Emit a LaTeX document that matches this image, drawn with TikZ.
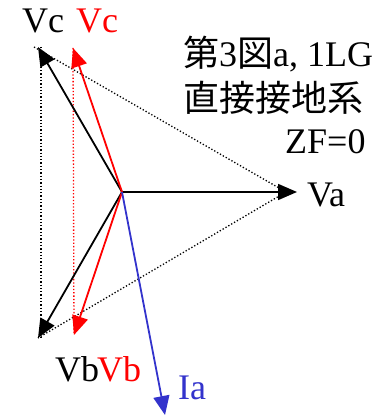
\documentclass[tikz,border=0pt]{standalone}
\usepackage{fontspec}
\setmainfont{Liberation Serif}
\newfontfamily\cjk{Noto Sans CJK JP}
\usetikzlibrary{arrows.meta}
\definecolor{Vred}{HTML}{FF0000}
\definecolor{Iblue}{HTML}{3333CC}
\tikzset{vec/.style={line width=1.8pt,-{Triangle[length=19pt,width=16pt]}},guide/.style={line width=1.3pt,dash pattern=on 1.3pt off 2pt},lbl/.style={inner sep=0pt,anchor=base west,font=\fontsize{36}{50}\selectfont}}

\begin{document}
\begin{tikzpicture}[x=1pt,y=1pt]
  \useasboundingbox (0,0) rectangle (382,417);
  \coordinate (O) at (122,225);
  \coordinate (va) at (297,225);
  \coordinate (vc) at (38,370);
  \coordinate (vb) at (38,79);
  \coordinate (vcf) at (73,369);
  \coordinate (vbf) at (74,82);
  \coordinate (ia) at (165,2);
  \coordinate (tc) at (34,370);
  \coordinate (ta) at (286,225);
  % dotted triangles
  \draw[guide](tc)--(ta)--(vb);
  \draw[guide]([xshift=3pt]vc)--([xshift=3pt]vb);
  \draw[guide,Vred](vcf)--(vbf);
  % phasors
  \draw[vec](O)--(va);\draw[vec](O)--(vc);\draw[vec](O)--(vb);
  \draw[vec,Vred](O)--(vcf);\draw[vec,Vred](O)--(vbf);
  \draw[vec,Iblue](O)--(ia);
  % labels
  \node[lbl](lvc) at (22,384){Vc};
  \node[lbl,text=Vred](lvcf) at (76,384){Vc};
  \node[lbl](lvb) at (55,35){Vb};
  \node[lbl,text=Vred](lvbf) at (97,35){Vb};
  \node[lbl,text=Iblue](lia) at (178,17){Ia};
  \node[lbl](lva) at (307,210){Va};
  \node[lbl](t1) at (183,350){{\cjk 第}3{\cjk 図}a, 1LG};
  \node[lbl](t2) at (183,305){\cjk 直接接地系};
  \node[lbl](t3) at (285,263){ZF=0};
\end{tikzpicture}
\end{document}
